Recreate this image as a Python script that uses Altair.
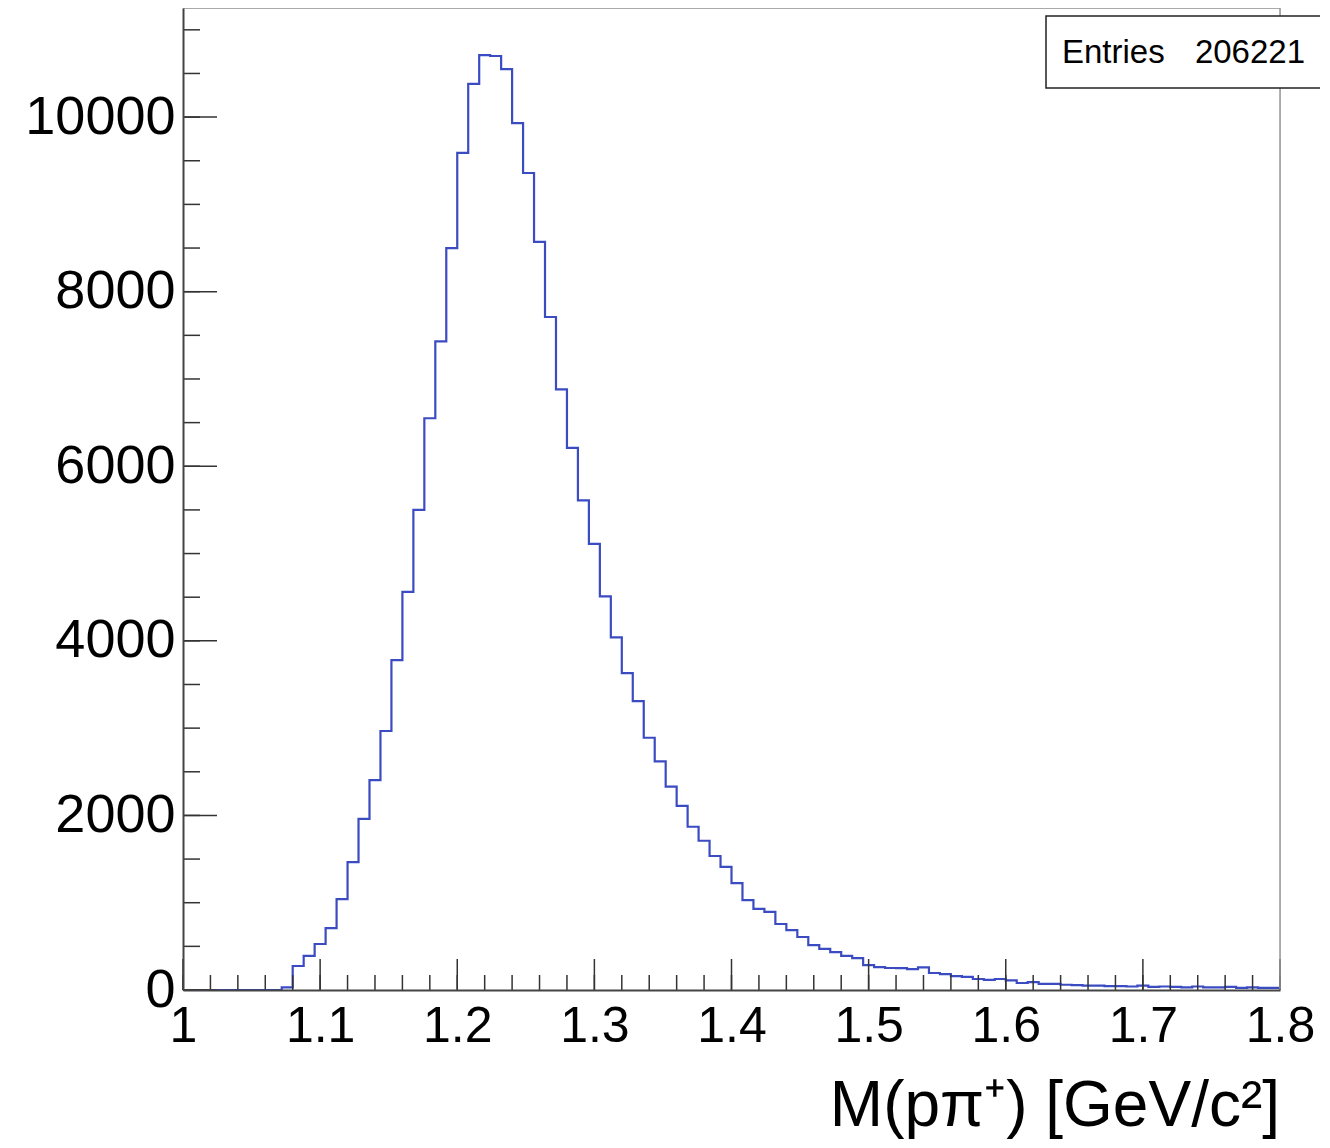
import altair as alt
import pandas as pd

# Histogram: 100 bins from 1.0 to 1.8 GeV/c^2
x_min = 1.0
x_max = 1.8
n_bins = 100
counts = [
    0, 0, 0, 0, 0, 0, 0, 0, 0, 30,
    275, 390, 527, 710, 1040, 1466, 1960, 2405, 2967, 3780,
    4560, 5500, 6550, 7430, 8500, 9590, 10380, 10710, 10700, 10550,
    9930, 9360, 8570, 7710, 6880, 6210, 5610, 5110, 4510, 4040,
    3630, 3310, 2890, 2620, 2330, 2110, 1870, 1710, 1535, 1410,
    1225, 1030, 930, 895, 756, 687, 607, 515, 470, 435,
    390, 366, 286, 263, 252, 250, 240, 260, 195, 183,
    160, 150, 126, 115, 126, 110, 80, 90, 70, 70,
    60, 55, 50, 50, 45, 45, 40, 50, 35, 40,
    35, 30, 40, 30, 30, 35, 25, 30, 25, 25,
]
y_max = 11250

x_major_ticks = [1.0, 1.1, 1.2, 1.3, 1.4, 1.5, 1.6, 1.7, 1.8]
x_minor_ticks = [round(1.0 + 0.02 * i, 2) for i in range(41)]
y_major_ticks = [0, 2000, 4000, 6000, 8000, 10000]
y_minor_ticks = [500 * i for i in range(23)]

entries_label = "Entries"
entries_value = "206221"
x_title = "M(pπ⁺) [GeV/c²]"

W = 1097
H = 982
FONT = "Liberation Sans"
LINE_COLOR = "#3b4bc2"

bw = (x_max - x_min) / n_bins
edges = [x_min + bw * i for i in range(n_bins + 1)]
hist = pd.DataFrame({"m": edges, "n": counts + [counts[-1]]})

xs = alt.Scale(domain=[x_min, x_max], nice=False, zero=False)
ys = alt.Scale(domain=[0, y_max], nice=False)

base_axes = alt.Chart(hist).mark_line(opacity=0).encode(
    x=alt.X("m:Q", scale=xs,
            axis=alt.Axis(values=x_major_ticks, format="~g", title=None, ticks=False,
                          grid=False, domain=True, domainColor="#444", domainWidth=2,
                          labelFont=FONT, labelFontSize=50, labelColor="black",
                          labelPadding=11, labelFlush=False, labelOverlap=False,
                          zindex=1)),
    y=alt.Y("n:Q", scale=ys,
            axis=alt.Axis(values=y_major_ticks, format="d", title=None, ticks=False,
                          grid=False, domain=True, domainColor="#444", domainWidth=2,
                          labelFont=FONT, labelFontSize=54, labelColor="black",
                          labelPadding=8, labelFlush=False, labelOverlap=False,
                          zindex=1)),
)

line = alt.Chart(hist).mark_line(interpolate="step-after", color=LINE_COLOR,
                                 strokeWidth=2.2).encode(
    x=alt.X("m:Q", scale=xs), y=alt.Y("n:Q", scale=ys))

# inward ticks
xmaj = alt.Chart(pd.DataFrame({"t": x_major_ticks})).mark_rule(color="#333", strokeWidth=1.5).encode(
    x=alt.X("t:Q", scale=xs), y=alt.value(H), y2=alt.value(H - 31))
xmin_ = alt.Chart(pd.DataFrame({"t": x_minor_ticks})).mark_rule(color="#333", strokeWidth=1.5).encode(
    x=alt.X("t:Q", scale=xs), y=alt.value(H), y2=alt.value(H - 15))
ymaj = alt.Chart(pd.DataFrame({"t": y_major_ticks})).mark_rule(color="#333", strokeWidth=1.5).encode(
    y=alt.Y("t:Q", scale=ys), x=alt.value(0), x2=alt.value(34))
ymin_ = alt.Chart(pd.DataFrame({"t": y_minor_ticks})).mark_rule(color="#333", strokeWidth=1.5).encode(
    y=alt.Y("t:Q", scale=ys), x=alt.value(0), x2=alt.value(17))

frame_df = pd.DataFrame({"k": [0]})
top_frame = alt.Chart(frame_df).mark_rule(color="#999", strokeWidth=1.5).encode(
    x=alt.value(0), x2=alt.value(W), y=alt.value(0))
right_frame = alt.Chart(frame_df).mark_rule(color="#999", strokeWidth=1.5).encode(
    x=alt.value(W), y=alt.value(0), y2=alt.value(H))

box = alt.Chart(frame_df).mark_rect(fill="white", stroke="#222", strokeWidth=1.5).encode(
    x=alt.value(863), x2=alt.value(1138), y=alt.value(8), y2=alt.value(80))
t1 = alt.Chart(frame_df).mark_text(align="left", baseline="middle", font=FONT,
                                   fontSize=33, color="black", text=entries_label).encode(
    x=alt.value(879), y=alt.value(45))
t2 = alt.Chart(frame_df).mark_text(align="right", baseline="middle", font=FONT,
                                   fontSize=33, color="black", text=entries_value).encode(
    x=alt.value(1122), y=alt.value(45))
title = alt.Chart(frame_df).mark_text(align="right", baseline="alphabetic", font=FONT,
                                      fontSize=64, color="black", text=x_title).encode(
    x=alt.value(W), y=alt.value(H + 136))

chart = alt.layer(base_axes, line, xmin_, xmaj, ymin_, ymaj, top_frame, right_frame,
                  box, t1, t2, title).properties(
    width=W, height=H,
    autosize=alt.AutoSizeParams(type="none"),
    padding={"left": 175, "top": 0, "right": 40, "bottom": 150},
).configure_view(stroke=None).configure(background="white")

chart.save("out.html", embed_options={"renderer": "svg", "actions": False})
